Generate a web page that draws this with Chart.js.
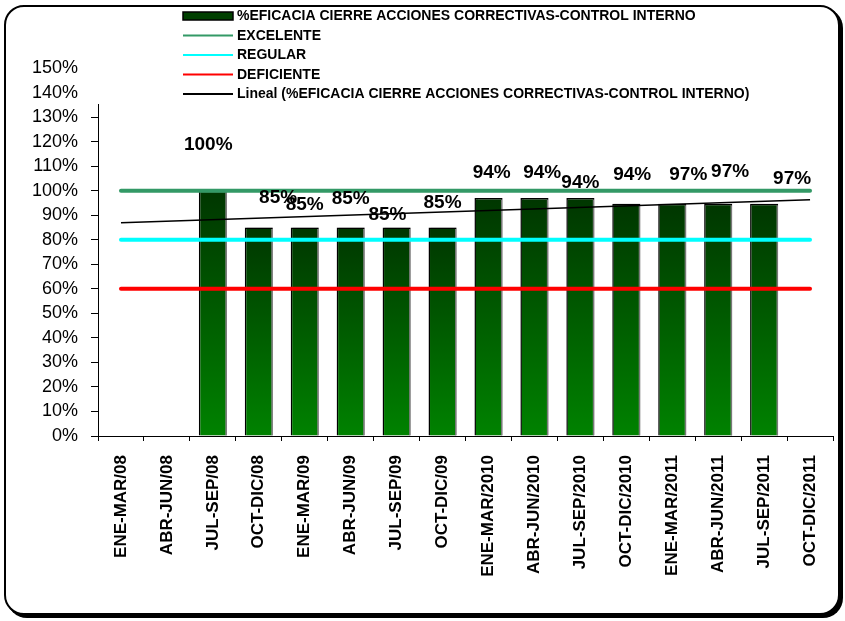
<!DOCTYPE html>
<html>
<head>
<meta charset="utf-8">
<script src="https://cdn.jsdelivr.net/npm/chart.js@4.4.1/dist/chart.umd.min.js"></script>
<style>
  html, body { margin: 0; padding: 0; background: #fff; }
  #wrap { position: relative; width: 845px; height: 621px; overflow: hidden; }
  #frame {
    position: absolute; left: 4px; top: 5px; width: 836px; height: 610px;
    box-sizing: border-box; border: 2px solid #000; border-radius: 20px;
    box-shadow: 3px 3px 0 #000; background: #fff;
  }
  #chart { position: absolute; left: 0; top: 0; }
</style>
</head>
<body>
<div id="wrap">
  <div id="frame"></div>
  <canvas id="chart" width="845" height="621"></canvas>
</div>
<script>
// categories (quarters)
const quarters = [
  'ENE-MAR/08', 'ABR-JUN/08', 'JUL-SEP/08', 'OCT-DIC/08',
  'ENE-MAR/09', 'ABR-JUN/09', 'JUL-SEP/09', 'OCT-DIC/09',
  'ENE-MAR/2010', 'ABR-JUN/2010', 'JUL-SEP/2010', 'OCT-DIC/2010',
  'ENE-MAR/2011', 'ABR-JUN/2011', 'JUL-SEP/2011', 'OCT-DIC/2011'
];

// bar heights (%)
const eficacia = [null, null, 100, 85, 85, 85, 85, 85, 97, 97, 97, 94.7, 94.7, 94.7, 94.7, null];

// data label texts as printed on the chart
const labelText = [null, null, '100%', '85%', '85%', '85%', '85%', '85%', '94%', '94%', '94%', '94%', '97%', '97%', '97%', null];
// where each label sits: height in % and sideways shift in categories
const labelLevel = [null, null, 118.8, 97.1, 94.3, 96.7, 90.2, 95.1, 107.3, 107.3, 103.3, 106.5, 106.5, 107.8, 104.9, null];
const labelShift = [0, 0, -0.1, 0.42, 0, 0, -0.2, 0, 0.07, 0.17, 0, 0.13, 0.35, 0.26, 0.61, 0];

// reference levels (%)
const excelente = 100;
const regular = 80;
const deficiente = 60;

// linear trend end points (%)
const trendStart = 86.9;
const trendEnd = 96.3;

const legendNames = [
  '%EFICACIA CIERRE ACCIONES CORRECTIVAS-CONTROL INTERNO',
  'EXCELENTE',
  'REGULAR',
  'DEFICIENTE',
  'Lineal (%EFICACIA CIERRE ACCIONES CORRECTIVAS-CONTROL INTERNO)'
];

const yTicks = { min: 0, max: 150, step: 10 };

const FONT = "'Liberation Sans', Arial, sans-serif";

const levelSeries = (v) => quarters.map(() => v);
const trendSeries = quarters.map((_, i) => i === 0 ? trendStart : (i === quarters.length - 1 ? trendEnd : null));

function barGradient(c) {
  const chart = c.chart;
  const ys = chart.scales && chart.scales.y;
  if (!ys || c.type !== 'data' || !c.parsed || c.parsed.y == null) return '#005a00';
  const top = ys.getPixelForValue(c.parsed.y);
  const bottom = ys.getPixelForValue(0);
  const g = chart.ctx.createLinearGradient(0, top, 0, bottom);
  g.addColorStop(0, '#003600');
  g.addColorStop(1, '#008200');
  return g;
}

// grey drop shadow at the right of the bars
const barShadow = {
  id: 'barShadow',
  beforeDatasetDraw(chart, args) {
    if (args.meta.type !== 'bar') return;
    const ctx = chart.ctx;
    ctx.save();
    ctx.shadowColor = 'rgba(150,150,150,0.8)';
    ctx.shadowOffsetX = 2;
    ctx.shadowOffsetY = 0;
    ctx.shadowBlur = 0;
  },
  afterDatasetDraw(chart, args) {
    if (args.meta.type !== 'bar') return;
    chart.ctx.restore();
  }
};

const valueLabels = {
  id: 'valueLabels',
  afterDatasetsDraw(chart) {
    const ctx = chart.ctx;
    const xs = chart.scales.x, ys = chart.scales.y;
    const step = xs.getPixelForValue(1) - xs.getPixelForValue(0);
    ctx.save();
    ctx.font = 'bold 19px ' + FONT;
    ctx.fillStyle = '#000';
    ctx.textAlign = 'center';
    ctx.textBaseline = 'middle';
    labelText.forEach((t, i) => {
      if (!t) return;
      const x = xs.getPixelForValue(i) + labelShift[i] * step;
      const y = ys.getPixelForValue(labelLevel[i]);
      ctx.fillText(t, x, y);
    });
    ctx.restore();
  }
};

// legend box laid over the top of the plot, like the original
const legendBox = {
  id: 'legendBox',
  afterDraw(chart) {
    const ctx = chart.ctx;
    const ds = chart.data.datasets;
    ctx.save();
    ctx.fillStyle = '#fff';
    ctx.fillRect(86, 7, 700, 97);
    const x0 = 183, x1 = 233, tx = 237;
    const rowY = [16, 35.5, 55, 74.5, 94];
    ctx.font = 'bold 14px ' + FONT;
    ctx.textBaseline = 'middle';
    ctx.textAlign = 'left';
    ds.forEach((d, i) => {
      const y = rowY[i];
      if (d.type === 'bar') {
        ctx.fillStyle = '#004000';
        ctx.fillRect(x0, y - 4, x1 - x0, 8);
        ctx.strokeStyle = '#000';
        ctx.lineWidth = 1.5;
        ctx.strokeRect(x0, y - 4, x1 - x0, 8);
      } else {
        ctx.strokeStyle = d.borderColor;
        ctx.lineWidth = 2;
        ctx.beginPath();
        ctx.moveTo(x0, y);
        ctx.lineTo(x1, y);
        ctx.stroke();
      }
      ctx.fillStyle = '#000';
      ctx.fillText(d.label, tx, y + 0.5);
    });
    ctx.restore();
  }
};

new Chart(document.getElementById('chart').getContext('2d'), {
  data: {
    labels: quarters,
    datasets: [
      {
        type: 'bar',
        label: legendNames[0],
        data: eficacia,
        backgroundColor: barGradient,
        borderColor: '#000',
        borderWidth: 1.5,
        barPercentage: 0.61,
        categoryPercentage: 1,
        order: 10
      },
      {
        type: 'line',
        label: legendNames[1],
        data: levelSeries(excelente),
        borderColor: '#339966',
        borderWidth: 4,
        borderCapStyle: 'round',
        pointRadius: 0,
        order: 4
      },
      {
        type: 'line',
        label: legendNames[2],
        data: levelSeries(regular),
        borderColor: '#00ffff',
        borderWidth: 4,
        borderCapStyle: 'round',
        pointRadius: 0,
        order: 3
      },
      {
        type: 'line',
        label: legendNames[3],
        data: levelSeries(deficiente),
        borderColor: '#ff0000',
        borderWidth: 4,
        borderCapStyle: 'round',
        pointRadius: 0,
        order: 2
      },
      {
        type: 'line',
        label: legendNames[4],
        data: trendSeries,
        spanGaps: true,
        borderColor: '#000',
        borderWidth: 1.5,
        pointRadius: 0,
        order: 1
      }
    ]
  },
  options: {
    responsive: false,
    animation: false,
    devicePixelRatio: 1,
    layout: { padding: { left: 0, right: 12, top: 68, bottom: 0 } },
    plugins: {
      legend: { display: false },
      tooltip: { enabled: false }
    },
    scales: {
      x: {
        offset: true,
        grid: { offset: true, drawOnChartArea: false, tickLength: 5, color: '#000' },
        border: { color: '#000', width: 1 },
        ticks: {
          autoSkip: false,
          minRotation: 90,
          maxRotation: 90,
          padding: 14,
          color: '#000',
          font: { family: FONT, size: 17, weight: 'bold' }
        },
        afterFit: (s) => { s.height = 185; }
      },
      y: {
        min: yTicks.min,
        max: yTicks.max,
        grid: { drawOnChartArea: false, tickLength: 7, color: '#000' },
        border: { color: '#000', width: 1 },
        ticks: {
          autoSkip: false,
          stepSize: yTicks.step,
          padding: 13,
          color: '#000',
          font: { family: FONT, size: 18 },
          callback: (v) => v + '%'
        },
        afterFit: (s) => { s.width = 98; }
      }
    }
  },
  plugins: [barShadow, valueLabels, legendBox]
});
</script>
</body>
</html>
